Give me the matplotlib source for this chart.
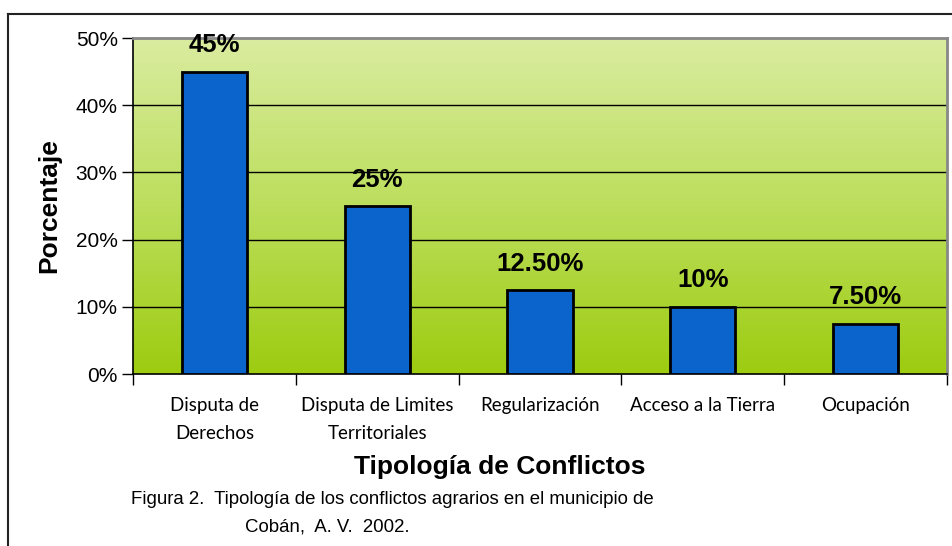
import numpy as np
import matplotlib.pyplot as plt
from matplotlib.lines import Line2D
from matplotlib.colors import LinearSegmentedColormap

categories = ["Disputa de\nDerechos", "Disputa de Limites\nTerritoriales", "Regularización",
              "Acceso a la Tierra", "Ocupación"]
values = [45, 25, 12.5, 10, 7.5]
value_labels = ["45%", "25%", "12.50%", "10%", "7.50%"]
y_ticks = [0, 10, 20, 30, 40, 50]

W, H = 952, 546
fig = plt.figure(figsize=(W / 100, H / 100), dpi=100)
# plot area in pixels: x 133..947, y 38..374
ax = fig.add_axes([133 / W, 1 - 374 / H, (947 - 133) / W, (374 - 38) / H])

# green gradient background
grad = LinearSegmentedColormap.from_list("g", ["#9dcc10", "#bcde5c", "#daeca0"])
ax.imshow(np.linspace(0, 1, 256).reshape(-1, 1), cmap=grad, origin="lower",
          aspect="auto", extent=[-0.5, 4.5, 0, 50], zorder=0)

x = np.arange(len(categories))
for yv in y_ticks[1:-1]:
    ax.axhline(yv, color="black", lw=1, zorder=1)
ax.bar(x, values, width=0.4, color="#0b64cc", edgecolor="black", linewidth=2, zorder=3)

for xi, v, lab in zip(x, values, value_labels):
    ax.annotate(lab, (xi, v), xytext=(0, 19), textcoords="offset points",
                ha="center", va="center", fontsize=18.5, fontweight="bold",
                family="Liberation Sans")

ax.set_xlim(-0.5, 4.5)
ax.set_ylim(0, 50)
ax.set_yticks(y_ticks)
ax.set_yticklabels([f"{t}%" for t in y_ticks], fontsize=15, family="Liberation Sans")
ax.tick_params(axis="y", length=8, width=1, pad=3)

ax.set_xticks(np.arange(-0.5, 5, 1))
ax.set_xticklabels([])
ax.tick_params(axis="x", length=8, width=1, direction="out")
for xi, c in zip(x, categories):
    ax.text(xi, -3.4, c, ha="center", va="top", fontsize=13.5, family="Lato",
            linespacing=1.8)

for s in ["left", "bottom"]:
    ax.spines[s].set_color("black")
    ax.spines[s].set_linewidth(1.2)
for s in ["top", "right"]:
    ax.spines[s].set_color("#888888")
    ax.spines[s].set_linewidth(2)

fig.text(49 / W, 1 - 206 / H, "Porcentaje", rotation=90, ha="center", va="center",
         fontsize=19, fontweight="bold", family="Liberation Sans")
fig.text(500 / W, 1 - 467 / H, "Tipología de Conflictos", ha="center", va="center",
         fontsize=19, fontweight="bold", family="Liberation Sans")
fig.text(131 / W, 1 - 500 / H, "Figura 2.  Tipología de los conflictos agrarios en el municipio de",
         ha="left", va="center", fontsize=13.4, family="Liberation Sans")
fig.text(245 / W, 1 - 527 / H, "Cobán,  A. V.  2002.",
         ha="left", va="center", fontsize=13.4, family="Liberation Sans")

# outer frame
fig.add_artist(Line2D([8 / W, 8 / W], [0, 1 - 14 / H], transform=fig.transFigure,
                      color="#222222", lw=1.5))
fig.add_artist(Line2D([8 / W, 1], [1 - 14 / H, 1 - 14 / H], transform=fig.transFigure,
                      color="#222222", lw=1.5))

fig.savefig("out.png", dpi=100)
